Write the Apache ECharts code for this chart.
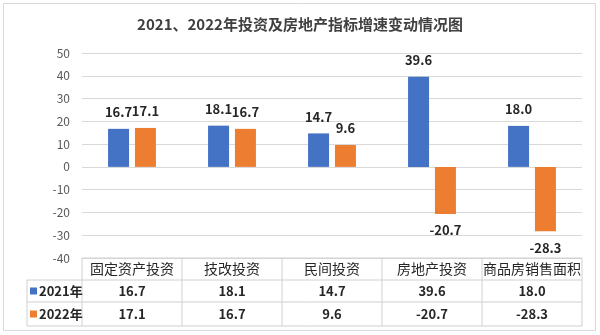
<!DOCTYPE html>
<html><head><meta charset="utf-8">
<script src="https://cdn.jsdelivr.net/npm/echarts@6/dist/echarts.min.js"></script>
<style>html,body{margin:0;padding:0;background:#fff}#c{width:600px;height:335px}</style>
</head><body><div id="c"></div>
<script>
var categories = ['固定资产投资','技改投资','民间投资','房地产投资','商品房销售面积'];
var seriesNames = ['2021年','2022年'];
var values2021 = [16.7, 18.1, 14.7, 39.6, 18.0];
var values2022 = [17.1, 16.7, 9.6, -20.7, -28.3];
var yTicks = [-40,-30,-20,-10,0,10,20,30,40,50];
var titleText = '2021、2022年投资及房地产指标增速变动情况图';

var FONT = '"Noto Sans CJK SC", "Liberation Sans", sans-serif';
var colors = ['#4472C4','#ED7D31'];
var chart = echarts.init(document.getElementById('c'), null, {renderer:'canvas'});
var GL = 82, GR = 582, GT = 53, GB = 258;
function lbl(v){ return v.toFixed(1); }
var option = {
  animation:false,
  backgroundColor:'#fff',
  title:{text:titleText,left:'center',top:12,textStyle:{fontFamily:FONT,fontSize:15,fontWeight:'bold',color:'#404040'}},
  grid:{left:GL,right:600-GR,top:GT,bottom:335-GB,containLabel:false},
  xAxis:{type:'category',data:categories,axisLine:{show:false},axisTick:{show:false},axisLabel:{show:false},splitLine:{show:false}},
  yAxis:{type:'value',min:yTicks[0],max:yTicks[yTicks.length-1],interval:10,
    axisLine:{show:false},axisTick:{show:false},
    axisLabel:{fontFamily:FONT,fontSize:12,color:'#595959',margin:12},
    splitLine:{lineStyle:{color:'#D9D9D9',width:1}}},
  series:[
    {name:seriesNames[0],type:'bar',data:values2021,barWidth:21,barGap:'28%',itemStyle:{color:colors[0]},
     label:{show:true,position:'top',distance:10,formatter:function(p){return lbl(p.value);},fontFamily:FONT,fontSize:13,fontWeight:'bold',color:'#262626'}},
    {name:seriesNames[1],type:'bar',data:values2022.map(function(v){return {value:v,label:{position:v<0?'bottom':'top'}};}),barWidth:21,itemStyle:{color:colors[1]},
     label:{show:true,distance:10,formatter:function(p){return lbl(p.value);},fontFamily:FONT,fontSize:13,fontWeight:'bold',color:'#262626'}}
  ]
};
chart.setOption(option);

// data table beneath the plot, positioned from the chart's own scales
var rows = [values2021, values2022];
var g = [];
var lineC = '#D0D0D0';
var yTop = chart.convertToPixel({yAxisIndex:0}, yTicks[0]);
var rowH = [22, 22, 24];
var rowY = [yTop, yTop+rowH[0], yTop+rowH[0]+rowH[1], yTop+rowH[0]+rowH[1]+rowH[2]];
var xs = categories.map(function(c){ return chart.convertToPixel({xAxisIndex:0}, c); });
var half = (xs[1]-xs[0])/2;
var xL = xs[0]-half, xR = xs[xs.length-1]+half, xHead = 27;
// horizontal lines
g.push({type:'line',shape:{x1:xL,y1:rowY[0],x2:xR,y2:rowY[0]},style:{stroke:lineC,lineWidth:1}});
for (var r=1;r<rowY.length;r++){
  g.push({type:'line',shape:{x1:xHead,y1:rowY[r],x2:xR,y2:rowY[r]},style:{stroke:lineC,lineWidth:1}});
}
// vertical lines
for (var i=0;i<=xs.length;i++){
  var x = xs[0]-half+i*2*half;
  g.push({type:'line',shape:{x1:x,y1:rowY[0],x2:x,y2:rowY[3]},style:{stroke:lineC,lineWidth:1}});
}
g.push({type:'line',shape:{x1:xHead,y1:rowY[1],x2:xHead,y2:rowY[3]},style:{stroke:lineC,lineWidth:1}});
// header texts
categories.forEach(function(c,i){
  g.push({type:'text',x:xs[i],y:(rowY[0]+rowY[1])/2,style:{text:c,fill:'#262626',font:'14px '+FONT,align:'center',verticalAlign:'middle'}});
});
// row texts
rows.forEach(function(arr,r){
  var cy = (rowY[r+1]+rowY[r+2])/2;
  g.push({type:'rect',shape:{x:xHead+3,y:cy-3.5,width:7,height:7},style:{fill:colors[r]}});
  g.push({type:'text',x:xHead+12,y:cy,style:{text:seriesNames[r],fill:'#262626',font:'bold 13px '+FONT,align:'left',verticalAlign:'middle'}});
  arr.forEach(function(v,i){
    g.push({type:'text',x:xs[i],y:cy,style:{text:lbl(v),fill:'#262626',font:'bold 13px '+FONT,align:'center',verticalAlign:'middle'}});
  });
});
// outer frame
g.push({type:'rect',shape:{x:3.5,y:3.5,width:592,height:327},style:{fill:null,stroke:'#D9D9D9',lineWidth:1},z:-1});
chart.setOption({graphic:g});
</script></body></html>
